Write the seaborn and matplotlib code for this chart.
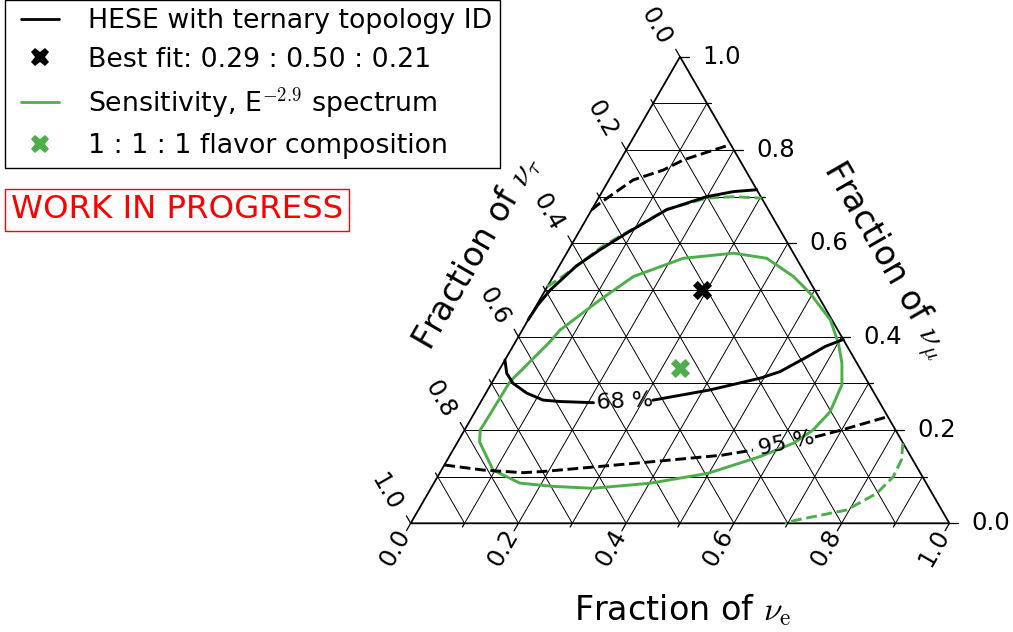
import numpy as np
import matplotlib
matplotlib.use("Agg")
import matplotlib.pyplot as plt
import seaborn as sns
from matplotlib.lines import Line2D
from matplotlib.legend_handler import HandlerLine2D

# ---------------- data (ternary fractions: nu_e, nu_mu) ----------------
# HESE 68 % contour, upper branch
hese68_up_fe = [0.000, 0.002, 0.009, 0.032, 0.058, 0.090, 0.139, 0.169, 0.199, 0.244, 0.285]
hese68_up_fmu = [0.436, 0.468, 0.500, 0.552, 0.586, 0.622, 0.672, 0.686, 0.700, 0.711, 0.715]
# HESE 68 % contour, lower branch (split at the inline label)
hese68_lo_a_fe = [0.000, 0.0175, 0.040, 0.076, 0.114, 0.147, 0.210]
hese68_lo_a_fmu = [0.350, 0.3215, 0.300, 0.279, 0.264, 0.261, 0.2585]
hese68_lo_b_fe = [0.318, 0.357, 0.413, 0.493, 0.523, 0.561, 0.580, 0.606]
hese68_lo_b_fmu = [0.264, 0.273, 0.286, 0.311, 0.325, 0.360, 0.379, 0.394]
# HESE 95 % contour, upper branch
hese95_up_fe = [0.000, 0.008, 0.045, 0.090, 0.117, 0.186]
hese95_up_fmu = [0.672, 0.686, 0.736, 0.757, 0.779, 0.811]
# HESE 95 % contour, lower branch (split at the inline label)
hese95_lo_a_fe = [0.000, 0.078, 0.155, 0.190, 0.255, 0.387, 0.505, 0.557]
hese95_lo_a_fmu = [0.125, 0.114, 0.1085, 0.111, 0.118, 0.1325, 0.146, 0.157]
hese95_lo_b_fe = [0.658, 0.700, 0.771]
hese95_lo_b_fmu = [0.185, 0.200, 0.2285]
# Sensitivity 68 % (closed loop)
sens68_fe = [0.064, 0.070, 0.112, 0.149, 0.222, 0.310, 0.377, 0.446, 0.495, 0.561,
             0.601, 0.629, 0.652, 0.659, 0.647, 0.625, 0.577, 0.498, 0.402, 0.301,
             0.227, 0.160, 0.096, 0.041, 0.029, 0.030, 0.0325, 0.064]
sens68_fmu = [0.389, 0.414, 0.479, 0.529, 0.568, 0.579, 0.568, 0.529, 0.493, 0.436,
              0.386, 0.343, 0.297, 0.239, 0.200, 0.172, 0.143, 0.107, 0.086, 0.075,
              0.079, 0.086, 0.114, 0.174, 0.200, 0.221, 0.3035, 0.389]
# Sensitivity 95 % (two branches inside the triangle)
sens95_up_fe = [0.000, 0.018, 0.036, 0.060, 0.088, 0.139, 0.201, 0.249, 0.303]
sens95_up_fmu = [0.507, 0.530, 0.557, 0.595, 0.622, 0.673, 0.697, 0.700, 0.697]
sens95_lo_fe = [0.828, 0.843, 0.846, 0.833, 0.795, 0.713, 0.695]
sens95_lo_fmu = [0.1715, 0.136, 0.100, 0.064, 0.0285, 0.007, 0.000]

# points
bestfit_fe, bestfit_fmu = [0.29], [0.50]
equal_fe, equal_fmu = [1 / 3], [1 / 3]

# inline contour labels
clabel_text = ["68 %", "95 %"]
clabel_fe = [0.2675, 0.611]
clabel_fmu = [0.2607, 0.172]
clabel_rot = [3, 12]

tick_values = [0.0, 0.2, 0.4, 0.6, 0.8, 1.0]
tick_labels = ["0.0", "0.2", "0.4", "0.6", "0.8", "1.0"]
legend_labels = ["HESE with ternary topology ID",
                 "Best fit: 0.29 : 0.50 : 0.21",
                 "Sensitivity, E$^{-2.9}$ spectrum",
                 "1 : 1 : 1 flavor composition"]

# ---------------- style ----------------
sns.set_style("white")
plt.rcParams["font.family"] = ["DejaVu Sans"]
plt.rcParams["mathtext.fontset"] = "cm"
plt.rcParams["text.color"] = "black"

GREEN = "#4daf4a"
H = np.sqrt(3) / 2


def to_xy(fe, fmu):
    fe = np.asarray(fe, float)
    fmu = np.asarray(fmu, float)
    return fe + fmu / 2, fmu * H


fig = plt.figure(figsize=(10.13, 6.32), dpi=100)
ax = fig.add_axes([0, 0, 1, 1])
ax.set_xlim(-0.7624, 1.1181)
ax.set_ylim(-0.2018, 0.9714)
ax.axis("off")

# ---------------- triangle grid ----------------
grid_kw = dict(color="black", lw=0.7, zorder=1, solid_capstyle="butt")
for i in range(1, 10):
    g = i / 10
    x, y = to_xy([0, 1 - g], [g, g])          # constant nu_mu
    ax.plot(x, y, **grid_kw)
    x, y = to_xy([g, g], [0, 1 - g])          # constant nu_e
    ax.plot(x, y, **grid_kw)
    x, y = to_xy([0, 1 - g], [1 - g, 0])      # constant nu_tau
    ax.plot(x, y, **grid_kw)

x, y = to_xy([0, 1, 0, 0], [0, 0, 1, 0])
ax.plot(x, y, color="black", lw=1.3, zorder=2, solid_joinstyle="miter")

for i in range(0, 11):
    g = i / 10
    L = 0.016 if i % 2 == 0 else 0.008
    x0, y0 = to_xy([1 - g], [g])
    ax.plot([x0[0], x0[0] + L], [y0[0], y0[0]], color="black", lw=0.9, zorder=2)
    x0, y0 = to_xy([g], [0])
    ax.plot([x0[0], x0[0] - 0.5 * L], [y0[0], y0[0] - H * L], color="black", lw=0.9, zorder=2)
    x0, y0 = to_xy([0], [1 - g])
    ax.plot([x0[0], x0[0] - 0.5 * L], [y0[0], y0[0] + H * L], color="black", lw=0.9, zorder=2)

TFS = 17.5
for v, lab in zip(tick_values, tick_labels):
    x0, y0 = to_xy([1 - v], [v])
    ax.text(x0[0] + 0.041, y0[0], lab, ha="left", va="center", fontsize=TFS)
    x0, y0 = to_xy([v], [0])
    ax.text(x0[0] - 0.029, y0[0] - 0.045, lab, ha="center", va="center",
            rotation=60, fontsize=TFS)
    x0, y0 = to_xy([0], [1 - v])
    ax.text(x0[0] - 0.045, y0[0] + 0.057, lab, ha="center", va="center",
            rotation=-60, fontsize=TFS)

AFS = 24
ax.text(0.505, -0.1795, r"Fraction of $\nu_\mathrm{e}$", ha="center", va="baseline", fontsize=AFS)
ax.text(0.880, 0.488, r"Fraction of $\nu_\mu$", ha="center", va="center", rotation=-60, fontsize=AFS)
ax.text(0.122, 0.503, r"Fraction of $\nu_\tau$", ha="center", va="center", rotation=60, fontsize=AFS)


# ---------------- contours ----------------
def draw(fe, fmu, color, ls="-"):
    x, y = to_xy(fe, fmu)
    sns.lineplot(x=x, y=y, sort=False, estimator=None, color=color, lw=2.1,
                 linestyle=ls, ax=ax, zorder=3)


draw(sens68_fe, sens68_fmu, GREEN)
draw(sens95_up_fe, sens95_up_fmu, GREEN, "--")
draw(sens95_lo_fe, sens95_lo_fmu, GREEN, "--")
draw(hese68_up_fe, hese68_up_fmu, "black")
draw(hese68_lo_a_fe, hese68_lo_a_fmu, "black")
draw(hese68_lo_b_fe, hese68_lo_b_fmu, "black")
draw(hese95_up_fe, hese95_up_fmu, "black", "--")
draw(hese95_lo_a_fe, hese95_lo_a_fmu, "black", "--")
draw(hese95_lo_b_fe, hese95_lo_b_fmu, "black", "--")

for t, fe, fmu, r in zip(clabel_text, clabel_fe, clabel_fmu, clabel_rot):
    x0, y0 = to_xy([fe], [fmu])
    ax.text(x0[0], y0[0], t, ha="center", va="center", rotation=r, fontsize=16, zorder=4)

x, y = to_xy(bestfit_fe, bestfit_fmu)
sns.scatterplot(x=x, y=y, marker="X", s=190, color="black", linewidth=0, ax=ax, zorder=5)
x, y = to_xy(equal_fe, equal_fmu)
sns.scatterplot(x=x, y=y, marker="X", s=190, color=GREEN, linewidth=0, ax=ax, zorder=5)

# ---------------- legend ----------------
h1 = Line2D([], [], color="black", lw=2)
h2 = Line2D([], [], color="black", marker="X", ms=13, ls="none", mew=0)
h3 = Line2D([], [], color=GREEN, lw=2)
h4 = Line2D([], [], color=GREEN, marker="X", ms=13, ls="none", mew=0)
leg = ax.legend([h1, h2, h3, h4], legend_labels, loc="upper left",
                bbox_to_anchor=(5 / 1013, 1.0), bbox_transform=fig.transFigure,
                borderaxespad=0, borderpad=0.3, fontsize=19.3, numpoints=2,
                labelspacing=0.47, fancybox=False, framealpha=1, edgecolor="black",
                handler_map={h2: HandlerLine2D(numpoints=1), h4: HandlerLine2D(numpoints=1)})
leg.get_frame().set_linewidth(1.0)
for t in leg.get_texts():
    t.set_color("black")

fig.text(177 / 1013, 1 - 210 / 632, "WORK IN PROGRESS", color="red", fontsize=23.3,
         ha="center", va="center",
         bbox=dict(boxstyle="square,pad=0.17", fc="white", ec="red", lw=1.0))

fig.savefig("out.png", dpi=100)
